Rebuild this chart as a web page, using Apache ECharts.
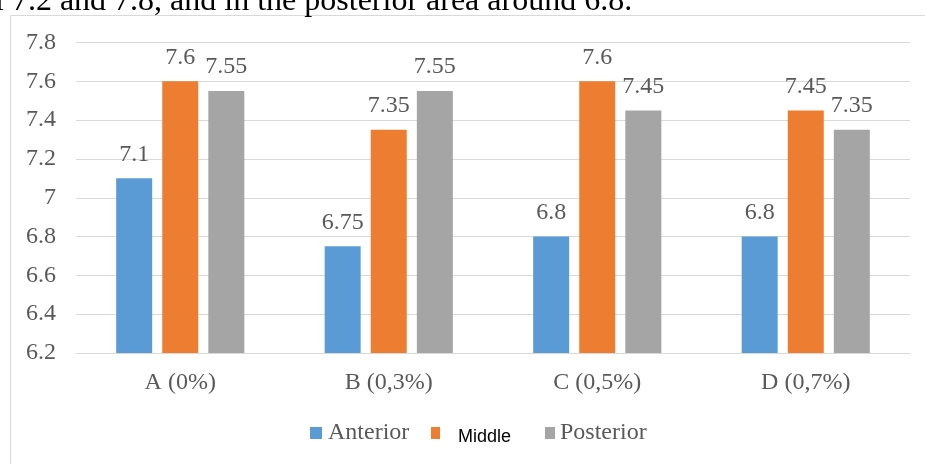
<!DOCTYPE html>
<html>
<head>
<meta charset="utf-8">
<script src="https://cdn.jsdelivr.net/npm/echarts@6/dist/echarts.min.js"></script>
<style>
html,body{margin:0;padding:0;background:#fff;}
#c{width:925px;height:464px;}
</style>
</head>
<body>
<div id="c"></div>
<script>
const categories = ['A (0%)', 'B (0,3%)', 'C (0,5%)', 'D (0,7%)'];
const anterior = [7.1, 6.75, 6.8, 6.8];
const middle = [7.6, 7.35, 7.6, 7.45];
const posterior = [7.55, 7.55, 7.45, 7.35];
const yTicks = { min: 6.2, max: 7.8, interval: 0.2 };
const captionText = 'l 7.2 and 7.8, and in the posterior area around 6.8.';

const serif = '"Liberation Serif", "Times New Roman", serif';
const txt = '#595959';

const chart = echarts.init(document.getElementById('c'), null, { renderer: 'canvas' });

function barSeries(name, data, color) {
  return {
    name: name,
    type: 'bar',
    data: data,
    barWidth: 36,
    barGap: '28%',
    itemStyle: { color: color },
    label: {
      show: true,
      position: 'top',
      distance: 12,
      color: txt,
      fontFamily: serif,
      fontSize: 24,
      formatter: p => String(p.value)
    },
    emphasis: { disabled: true }
  };
}

chart.setOption({
  animation: false,
  backgroundColor: '#fff',
  graphic: [
    { type: 'rect', left: 8, top: 13, shape: { width: 1200, height: 1000 },
      style: { fill: 'none', stroke: '#D9D9D9', lineWidth: 1 }, silent: true, z: -10 },
    { type: 'text', x: -5, y: 2,
      style: { text: captionText, font: '32px ' + serif, fill: '#000', verticalAlign: 'middle' },
      silent: true }
  ],
  grid: { left: 76, right: 15, top: 42.5, bottom: 111, containLabel: false },
  legend: [
    { data: ['Anterior'], left: 310, top: 421, padding: 0, icon: 'rect', itemWidth: 12, itemHeight: 12,
      itemGap: 0, textStyle: { fontFamily: serif, fontSize: 24, color: txt, padding: [0, 0, 0, 1] }, selectedMode: false },
    { data: ['Middle'], left: 431, top: 427, padding: 0, icon: 'rect', itemWidth: 9, itemHeight: 12,
      itemGap: 0, formatter: () => '', selectedMode: false },
    { data: ['Middle'], left: 453, top: 428, padding: 0, icon: 'rect', itemWidth: 0, itemHeight: 0,
      itemGap: 0, itemStyle: { opacity: 0 },
      textStyle: { fontFamily: '"Liberation Sans", Arial, sans-serif', fontSize: 18, color: '#000' }, selectedMode: false },
    { data: ['Posterior'], left: 545, top: 421, padding: 0, icon: 'rect', itemWidth: 10, itemHeight: 12,
      itemGap: 0, textStyle: { fontFamily: serif, fontSize: 24, color: txt, padding: [0, 0, 0, 0] }, selectedMode: false }
  ],
  xAxis: {
    type: 'category',
    data: categories,
    axisLine: { lineStyle: { color: '#D9D9D9', width: 1 } },
    axisTick: { show: false },
    axisLabel: { color: txt, fontFamily: serif, fontSize: 24, margin: 18 }
  },
  yAxis: {
    type: 'value',
    min: yTicks.min,
    max: yTicks.max,
    interval: yTicks.interval,
    axisLine: { show: false },
    axisTick: { show: false },
    splitLine: { lineStyle: { color: '#D9D9D9', width: 1 } },
    axisLabel: { color: txt, fontFamily: serif, fontSize: 24, margin: 20,
      formatter: v => String(+v.toFixed(1)) }
  },
  series: [
    barSeries('Anterior', anterior, '#5B9BD5'),
    barSeries('Middle', middle, '#ED7D31'),
    barSeries('Posterior', posterior, '#A5A5A5')
  ]
});
</script>
</body>
</html>
